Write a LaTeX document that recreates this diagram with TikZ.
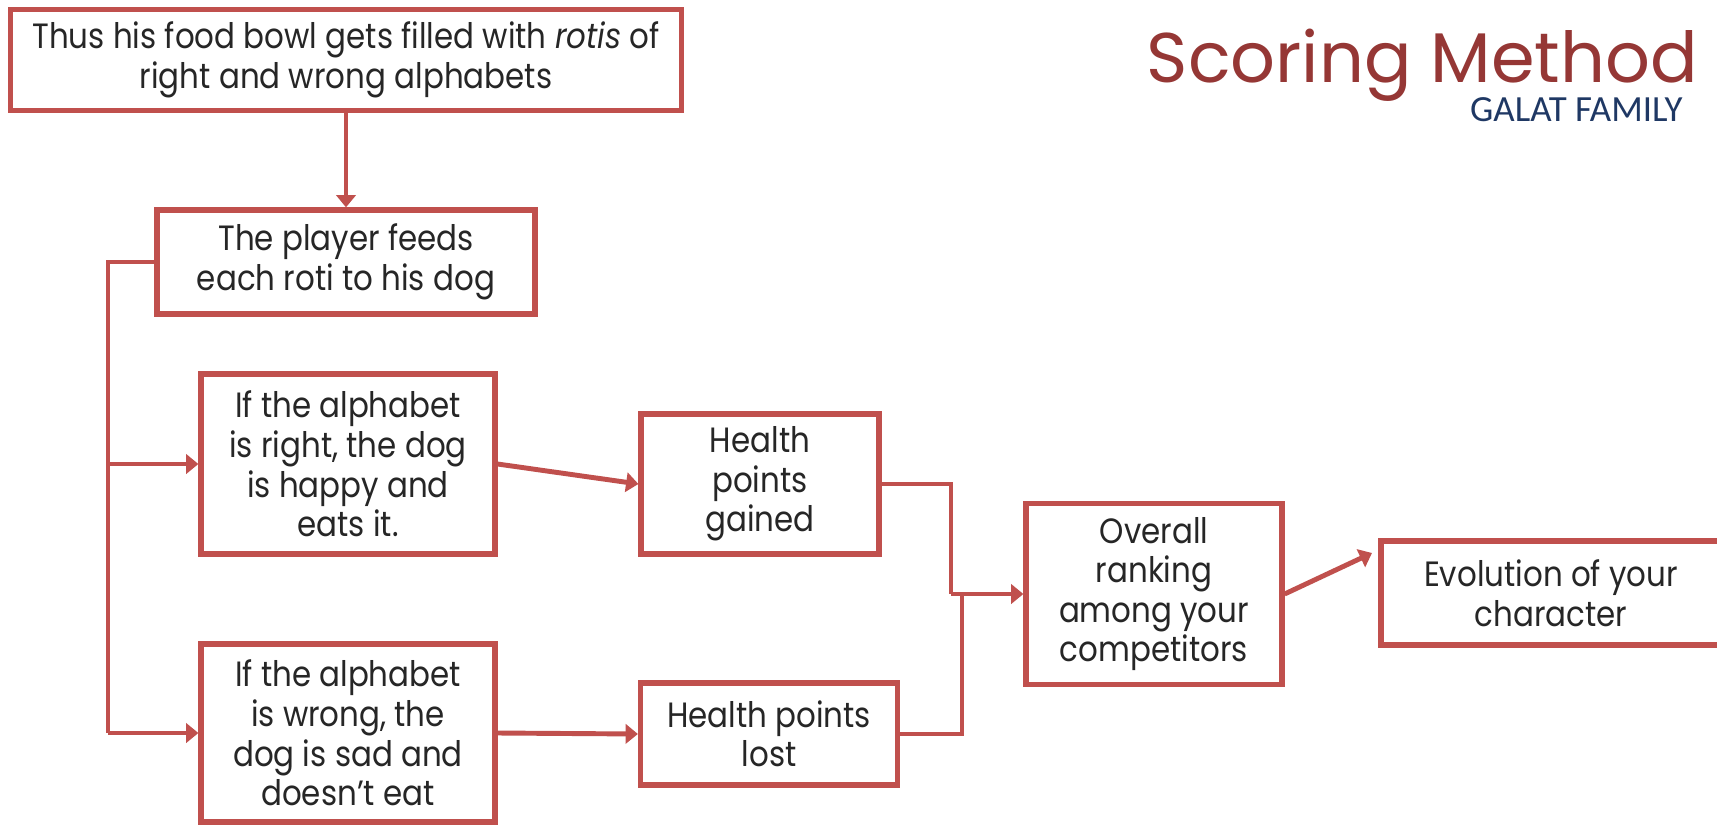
\documentclass[tikz,border=0pt]{standalone}
\usepackage{fontspec}
\setmainfont{Poppins}[FakeStretch=0.88]
\newfontfamily\titlefont{Poppins}
\newfontfamily\familyfont{Carlito}
\usetikzlibrary{arrows.meta}
\definecolor{boxred}{HTML}{C0504D}
\definecolor{titlered}{HTML}{953735}
\definecolor{familyblue}{HTML}{1F3864}
\tikzset{
  stage/.style={draw=boxred, line width=3pt, fill=white, align=center, inner sep=0pt,
    font=\fontsize{20}{22.5}\selectfont, text=black!85},
  link/.style={draw=boxred, line width=2.8pt, -{Triangle[length=7pt,width=11pt]}},
  wire/.style={draw=boxred, line width=2.8pt},
}
\begin{document}
\begin{tikzpicture}[x=0.02cm, y=-0.02cm]
	\useasboundingbox (0,0) rectangle (1717,825);
	% title
	\node[anchor=base east, inner sep=0pt, text depth=0pt, font=\titlefont\fontsize{40}{40}\selectfont, text=titlered] (title) at (1698,82) {Scoring Method};
	\node[anchor=base east, inner sep=0pt, font=\familyfont\fontsize{21}{21}\selectfont, text=familyblue] (family) at (1683,121) {GALAT FAMILY};
	% boxes
	\node[stage, minimum width=13.42cm, minimum height=2.02cm] (bowl) at (346,60) {Thus his food bowl gets filled with \emph{rotis} of\\right and wrong alphabets};
	\node[stage, minimum width=7.56cm, minimum height=2.08cm] (feeds) at (346,262) {The player feeds\\each roti to his dog};
	\node[stage, minimum width=5.88cm, minimum height=3.6cm] (right) at (348,464) {If the alphabet\\is right, the dog\\is happy and\\eats it.};
	\node[stage, minimum width=5.88cm, minimum height=3.56cm] (wrong) at (348,733) {If the alphabet\\is wrong, the\\dog is sad and\\doesn’t eat};
	\node[stage, minimum width=4.76cm, minimum height=2.8cm] (gained) at (760,484) {Health\\points\\gained};
	\node[stage, minimum width=5.14cm, minimum height=2.04cm] (lost) at (769,734) {Health points\\lost};
	\node[stage, minimum width=5.12cm, minimum height=3.62cm] (overall) at (1154,594) {Overall\\ranking\\among your\\competitors};
	\node[stage, minimum width=6.8cm, minimum height=2.08cm] (evolution) at (1551,593) {Evolution of your\\character};
	\coordinate (evoin) at (1372,553);
	% connectors
	\draw[link] (bowl.south) -- (feeds.north);
	\draw[wire] (feeds.west) -- (108,262) -- (108,733);
	\draw[link] (108,464) -- (right.west);
	\draw[link] (108,733) -- (wrong.west);
	\draw[link] (right.east) -- (gained.west);
	\draw[link] (wrong.east) -- (lost.west);
	\draw[wire] (gained.east) -- (951,484) -- (951,594);
	\draw[wire] (lost.east) -- (962,734) -- (962,594);
	\draw[link] (951,594) -- (overall.west);
	\draw[link] (overall.east) -- (evoin);
\end{tikzpicture}
\end{document}
